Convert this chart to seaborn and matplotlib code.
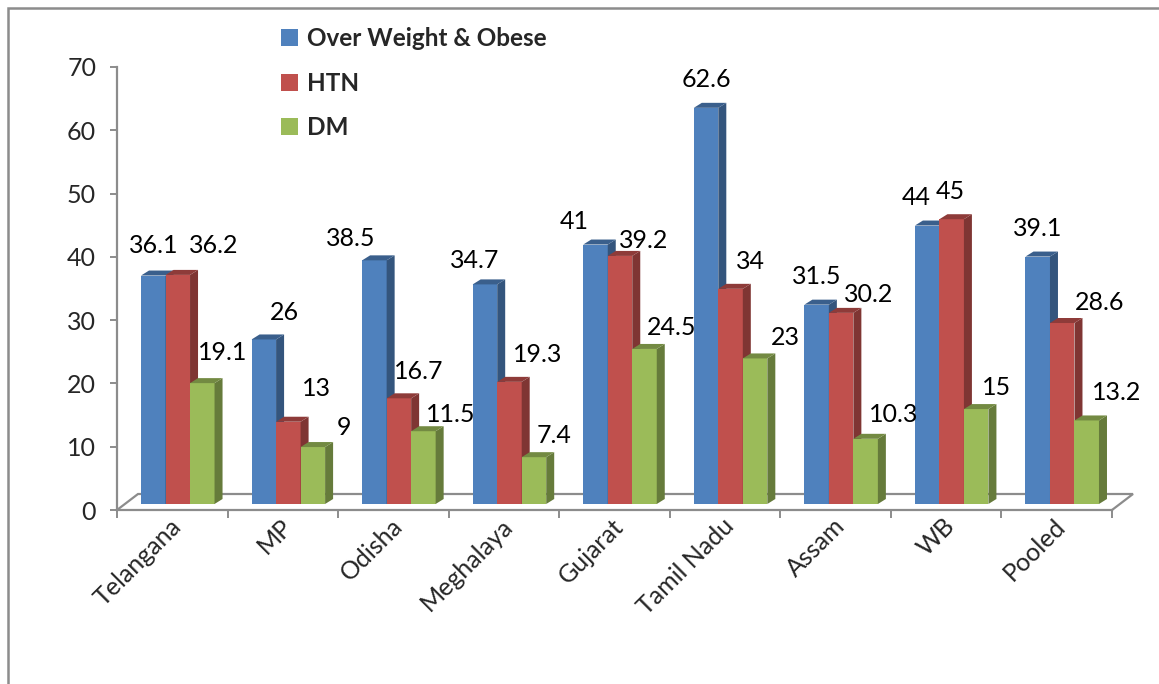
import numpy as np
import pandas as pd
import matplotlib
matplotlib.use("Agg")
import matplotlib.pyplot as plt
import seaborn as sns
from matplotlib.patches import Polygon, Patch, Rectangle
from matplotlib.lines import Line2D
from matplotlib.transforms import ScaledTranslation
from matplotlib.colors import to_rgb

# ---- data -------------------------------------------------------------
states = ["Telangana", "MP", "Odisha", "Meghalaya", "Gujarat",
          "Tamil Nadu", "Assam", "WB", "Pooled"]
series_names = ["Over Weight & Obese", "HTN", "DM"]
overweight_obese = [36.1, 26, 38.5, 34.7, 41, 62.6, 31.5, 44, 39.1]
htn = [36.2, 13, 16.7, 19.3, 39.2, 34, 30.2, 45, 28.6]
dm = [19.1, 9, 11.5, 7.4, 24.5, 23, 10.3, 15, 13.2]
y_ticks = [0, 10, 20, 30, 40, 50, 60, 70]

# ---- styling ----------------------------------------------------------
front_colors = ["#4F81BD", "#C0504D", "#9BBB59"]
FONT = "Lato"
W, H, DPI = 1159, 684, 100

# label offsets (pixels, right/up) from the top-centre of each bar,
# ordered series by series, state by state
label_offsets = [
    [(0, 30), (21, 27), (-24, 22), (-10, 24), (-21, 23), (0, 28), (0, 28), (-11, 28), (0, 28)],
    [(36, 29), (28, 33), (20, 27), (28, 27), (24, 15), (20, 27), (28, 18), (-1, 28), (37, 21)],
    [(20, 31), (31, 20), (27, 17), (20, 22), (27, 21), (30, 21), (28, 24), (20, 22), (30, 28)],
]

sns.set_theme(style="white")
plt.rcParams["font.family"] = [FONT, "DejaVu Sans"]

df = pd.DataFrame({
    "state": states * 3,
    "series": np.repeat(series_names, len(states)),
    "value": overweight_obese + htn + dm,
})

fig = plt.figure(figsize=(W / DPI, H / DPI), dpi=DPI)
ax = fig.add_axes([117 / W, (H - 510) / H, (1112 - 117) / W, (510 - 67) / H])

sns.barplot(data=df, x="state", y="value", hue="series", hue_order=series_names,
            palette=front_colors, width=0.665, saturation=1, ax=ax,
            legend=False, linewidth=0, zorder=2)

ax.set_xlim(-0.5, len(states) - 0.5)
ax.set_ylim(0, 70)

# 3-D look: bars sit slightly back (up/right) and get a side and a top face
bar_shift = ScaledTranslation(5.5 / DPI, 6 / DPI, fig.dpi_scale_trans)
bar_trans = ax.transData + bar_shift
fig.canvas.draw()
px_per_x = ax.transData.transform((1, 0))[0] - ax.transData.transform((0, 0))[0]
px_per_y = ax.transData.transform((0, 1))[1] - ax.transData.transform((0, 0))[1]
depth_x = 8 / px_per_x
depth_y = 5 / px_per_y


def shade(c, f):
    r, g, b = to_rgb(c)
    return (r * f, g * f, b * f)


n = len(states)
bars = list(ax.patches)
for k, col in enumerate(front_colors):
    for i in range(n):
        bar = bars[k * n + i]
        bar.set_transform(bar_trans)
        bar.set_zorder(2 + k * 0.1)
        x0 = bar.get_x()
        x1 = x0 + bar.get_width()
        h = bar.get_height()
        side = Polygon([(x1, 0), (x1 + depth_x, depth_y), (x1 + depth_x, h + depth_y), (x1, h)],
                       closed=True, facecolor=shade(col, 0.66), edgecolor="none",
                       transform=bar_trans, zorder=2 + k * 0.1 + 0.05)
        top = Polygon([(x0, h), (x1, h), (x1 + depth_x, h + depth_y), (x0 + depth_x, h + depth_y)],
                      closed=True, facecolor=shade(col, 0.74), edgecolor="none",
                      transform=bar_trans, zorder=2 + k * 0.1 + 0.06)
        ax.add_patch(side)
        ax.add_patch(top)
        dx, dy = label_offsets[k][i]
        ax.annotate(f"{h:g}", xy=(x0 + bar.get_width() / 2, h), xycoords=bar_trans,
                    xytext=(dx, dy), textcoords="offset pixels",
                    ha="center", va="center", fontsize=18, color="black",
                    zorder=5, annotation_clip=False)

# floor outline
grey = "#8C8C8C"
floor_back = 16 / px_per_y
floor_dx = 21 / px_per_x
ax.add_line(Line2D([-0.5, -0.5 + floor_dx, n - 0.5 + floor_dx, n - 0.5],
                   [0, floor_back, floor_back, 0], color=grey, lw=1.6,
                   zorder=1, clip_on=False, solid_joinstyle="miter"))

# axes styling
for s in ["top", "right"]:
    ax.spines[s].set_visible(False)
for s in ["left", "bottom"]:
    ax.spines[s].set_color(grey)
    ax.spines[s].set_linewidth(1.6)

ax.set_yticks(y_ticks)
ax.set_yticklabels([str(t) for t in y_ticks], fontsize=18)
ax.tick_params(axis="y", direction="out", length=5, width=1.4, color=grey, pad=10, left=True)

ax.set_xticks(range(n))
ax.set_xticks(np.arange(-0.5, n, 1.0), minor=True)
ax.tick_params(axis="x", which="major", length=0, pad=3)
ax.tick_params(axis="x", which="minor", direction="out", length=6, width=1.4,
               color=grey, bottom=True)
ax.set_xticklabels(states, rotation=45, ha="right", rotation_mode="anchor", fontsize=18)
for lab in ax.get_xticklabels():
    lab.set_transform(lab.get_transform() + ScaledTranslation(-3 / DPI, 0, fig.dpi_scale_trans))

ax.set_xlabel("")
ax.set_ylabel("")
ax.grid(False)

# legend
handles = [Patch(facecolor=c, edgecolor="none") for c in front_colors]
fig.legend(handles, series_names, loc="upper left",
           bbox_to_anchor=(271 / W, 1 - 17 / H), frameon=False,
           prop={"family": FONT, "weight": "bold", "size": 17.5},
           handlelength=0.7, handleheight=0.7, handletextpad=0.4,
           labelspacing=0.9, borderaxespad=0)

# chart border
fig.add_artist(Rectangle((8 / W, -0.2), 1.2, 1.2 - 8 / H, transform=fig.transFigure,
                         fill=False, edgecolor=grey, lw=1.8, clip_on=False))

fig.savefig("out.png", dpi=DPI)
